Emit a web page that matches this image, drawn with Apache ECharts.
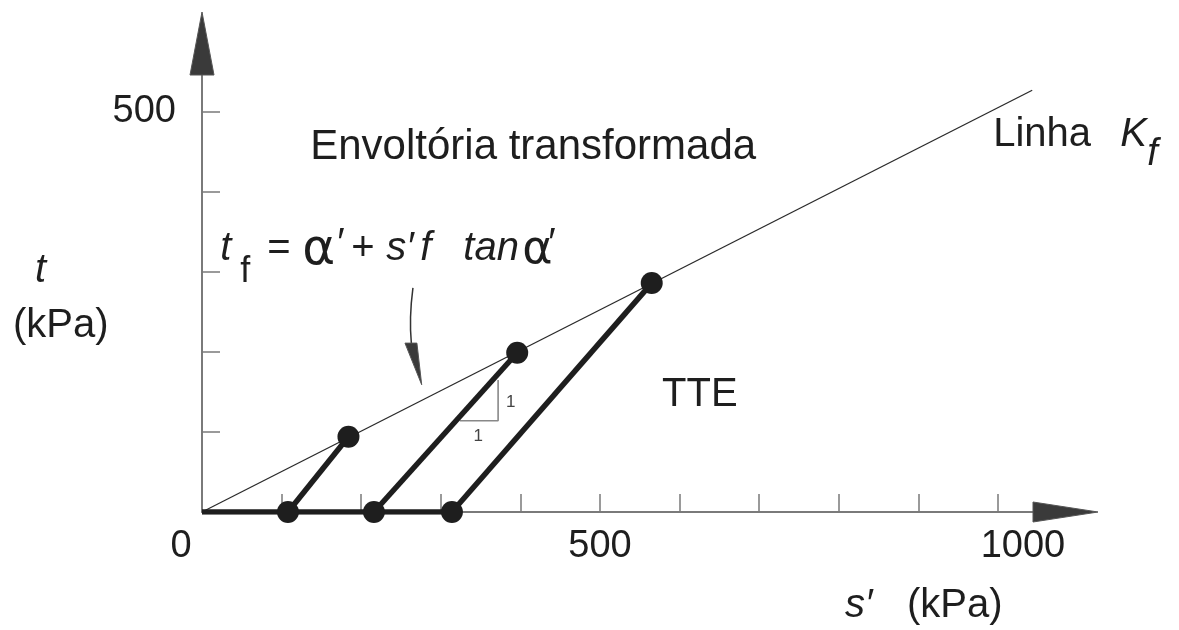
<!DOCTYPE html>
<html>
<head>
<meta charset="utf-8">
<script src="https://cdn.jsdelivr.net/npm/echarts@6/dist/echarts.min.js"></script>
<style>
  html, body { margin: 0; padding: 0; background: #fff; }
  #chart { width: 1179px; height: 630px; }
</style>
</head>
<body>
<div id="chart"></div>
<script>
// Stress paths in the s'-t plane (kPa)
const kfLine = [[0, 0], [1043, 527]];            // transformed failure envelope (Kf line)
const startPoints = [[108, 0], [216, 0], [314, 0]];   // end of isotropic consolidation
const failurePoints = [[184, 94], [396, 199], [565, 286]]; // failure states on Kf
const isotropicPath = [[0, 0], [314, 0]];
const slopeMarker = [[324, 114], [372, 114], [372, 165]];  // 1:1 slope triangle

const xTickValues = [100, 200, 300, 400, 500, 600, 700, 800, 900, 1000];
const xLabelValues = [0, 500, 1000];
const yTickValues = [100, 200, 300, 400, 500];
const yLabelValues = [500];

const FONT = '"Liberation Sans", Arial, sans-serif';
const GREEK = '"DejaVu Sans", sans-serif';
const INK = '#1e1e1e';
const AXIS = '#7a7a7a';

const chart = echarts.init(document.getElementById('chart'), null, { renderer: 'canvas' });

const series = [
  {
    type: 'line', data: kfLine, symbol: 'none', silent: true,
    lineStyle: { color: '#2a2a2a', width: 1.3 }, z: 3
  },
  {
    type: 'line', data: isotropicPath, symbol: 'none', silent: true,
    lineStyle: { color: INK, width: 5.5 }, z: 4
  },
  {
    type: 'line', data: slopeMarker, symbol: 'none', silent: true,
    lineStyle: { color: '#888', width: 1.6 }, z: 3
  }
];
startPoints.forEach((p, i) => {
  series.push({
    type: 'line', data: [p, failurePoints[i]], symbol: 'none', silent: true,
    lineStyle: { color: INK, width: 5.5 }, z: 4
  });
});
series.push({
  type: 'scatter', data: startPoints.concat(failurePoints), symbol: 'circle',
  symbolSize: 22, itemStyle: { color: INK, opacity: 1 }, silent: true, z: 5
});

chart.setOption({
  animation: false,
  grid: { left: 202, right: 146, top: 75, bottom: 118 },
  xAxis: {
    type: 'value', min: 0, max: 1044,
    axisLine: { show: true, onZero: false, lineStyle: { color: AXIS, width: 2 } },
    axisTick: { show: true, inside: true, length: 18, customValues: xTickValues,
      lineStyle: { color: AXIS, width: 1.5 } },
    axisLabel: {
      customValues: xLabelValues, margin: 16, color: INK,
      fontFamily: FONT, fontSize: 38,
      formatter: v => v === 0 ? '{l|0}' : (v === 1000 ? '{r|1000}' : '{c|' + v + '}'),
      rich: {
        l: { fontFamily: FONT, fontSize: 38, color: INK, padding: [0, 42, 0, 0] },
        r: { fontFamily: FONT, fontSize: 38, color: INK, padding: [0, 0, 0, 50] },
        c: { fontFamily: FONT, fontSize: 38, color: INK }
      }
    },
    splitLine: { show: false }
  },
  yAxis: {
    type: 'value', min: 0, max: 546,
    axisLine: { show: true, onZero: false, lineStyle: { color: AXIS, width: 2 } },
    axisTick: { show: true, inside: true, length: 18, customValues: yTickValues,
      lineStyle: { color: AXIS, width: 1.5 } },
    axisLabel: { customValues: yLabelValues, margin: 26, color: INK,
      fontFamily: FONT, fontSize: 38 },
    splitLine: { show: false }
  },
  series: series
});

// ---- annotations placed from data coordinates ----
function px(s, t) { return chart.convertToPixel({ gridIndex: 0 }, [s, t]); }
function txt(x, y, str, size, opts) {
  opts = opts || {};
  return {
    type: 'text', x: x, y: y, z: 20, silent: true,
    style: {
      text: str, fill: opts.fill || INK,
      font: (opts.italic ? 'italic ' : '') + size + 'px ' + (opts.family || FONT),
      align: opts.align || 'left', verticalAlign: 'middle'
    }
  };
}

const origin = px(0, 0);
const xEnd = px(1044, 0);
const yEnd = px(0, 546);
const g = [];

// axis arrows
g.push({ type: 'polygon', z: 15, silent: true,
  shape: { points: [[xEnd[0], xEnd[1] - 10], [xEnd[0] + 65, xEnd[1]], [xEnd[0], xEnd[1] + 10]] },
  style: { fill: '#3a3a3a', stroke: '#555', lineWidth: 1 } });
g.push({ type: 'polygon', z: 15, silent: true,
  shape: { points: [[yEnd[0] - 12, yEnd[1]], [yEnd[0], yEnd[1] - 63], [yEnd[0] + 12, yEnd[1]]] },
  style: { fill: '#3a3a3a', stroke: '#555', lineWidth: 1 } });

// axis titles
g.push(txt(origin[0] - 167, origin[1] - 241, 't', 40, { italic: true }));
g.push(txt(origin[0] - 189, origin[1] - 186, '(kPa)', 40));
g.push(txt(origin[0] + 643, origin[1] + 94, 's\u2032', 40, { italic: true }));
g.push(txt(origin[0] + 705, origin[1] + 94, '(kPa)', 40));

// titles inside the plot
const env = px(136, 455);
g.push(txt(env[0], env[1], 'Envoltória transformada', 42));
const tte = px(578, 146);
g.push(txt(tte[0], tte[1], 'TTE', 40));
const lk = px(994, 471);
g.push(txt(lk[0], lk[1], 'Linha', 40));
g.push(txt(lk[0] + 127, lk[1], 'K', 40, { italic: true }));
g.push(txt(lk[0] + 154, lk[1] + 19, 'f', 38, { italic: true }));

// envelope equation
const eq = px(23, 329);
g.push(txt(eq[0], eq[1], 't', 40, { italic: true }));
g.push(txt(eq[0] + 20, eq[1] + 23, 'f', 36));
g.push(txt(eq[0] + 47, eq[1], '=', 40));
g.push(txt(eq[0] + 82, eq[1] + 2, '\u03B1', 50, { family: GREEK }));
g.push(txt(eq[0] + 117, eq[1] - 4, '\u2032', 40));
g.push(txt(eq[0] + 131, eq[1], '+', 40));
g.push(txt(eq[0] + 166, eq[1], 's\u2032', 40, { italic: true }));
g.push(txt(eq[0] + 200, eq[1], 'f', 40, { italic: true }));
g.push(txt(eq[0] + 243, eq[1], 'tan', 40, { italic: true }));
g.push(txt(eq[0] + 302, eq[1] + 2, '\u03B1', 46, { family: GREEK }));
g.push(txt(eq[0] + 328, eq[1] - 4, '\u2032', 40));

// pointer from the equation to the envelope
const a0 = px(265, 280), a1 = px(260, 242), a2 = px(263, 211);
g.push({ type: 'bezierCurve', z: 15, silent: true,
  shape: { x1: a0[0], y1: a0[1], cpx1: a1[0], cpy1: a1[1], x2: a2[0], y2: a2[1] },
  style: { stroke: '#333', lineWidth: 1.5, fill: null } });
const h1 = px(255, 211), h2 = px(270, 211), h3 = px(276, 159);
g.push({ type: 'polygon', z: 15, silent: true,
  shape: { points: [h1, h2, h3] },
  style: { fill: '#3a3a3a', stroke: '#555', lineWidth: 1 } });

// slope labels
const s1 = px(388, 137), s2 = px(347, 94);
g.push(txt(s1[0], s1[1], '1', 17, { fill: '#444', align: 'center' }));
g.push(txt(s2[0], s2[1], '1', 17, { fill: '#444', align: 'center' }));

chart.setOption({ graphic: g });
</script>
</body>
</html>
